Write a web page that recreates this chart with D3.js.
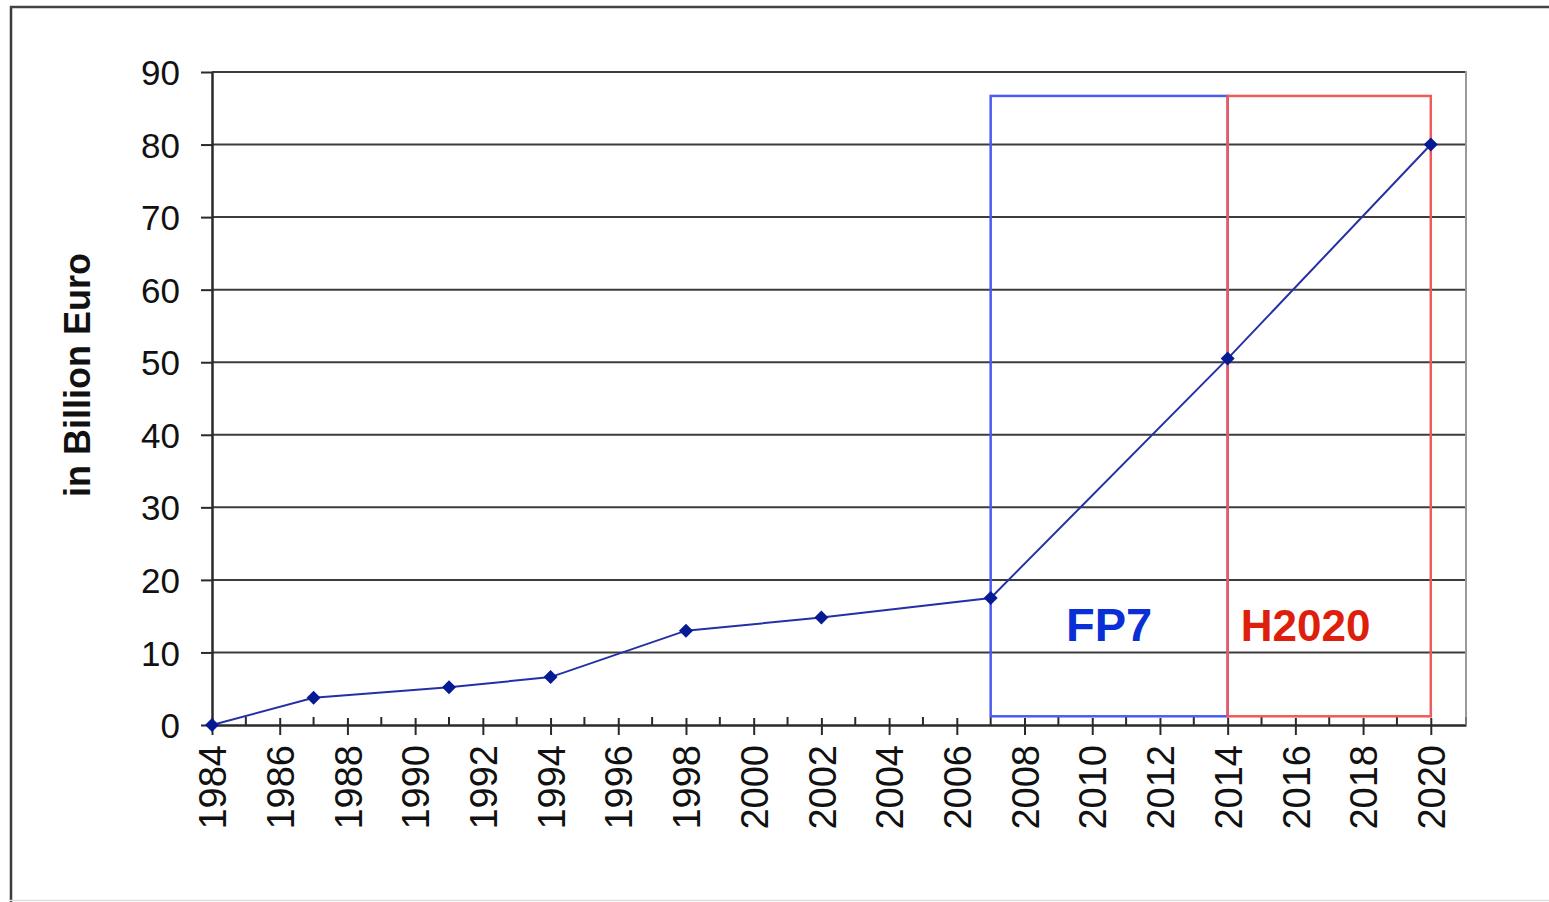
<!DOCTYPE html>
<html>
<head>
<meta charset="utf-8">
<script src="https://cdn.jsdelivr.net/npm/d3@7"></script>
<style>
  html, body { margin: 0; padding: 0; background: #fff; }
  svg { display: block; }
</style>
</head>
<body>
<script>
// sizes
const width = 1549;
const height = 902;
const margin = { top: 72, right: 83, bottom: 177, left: 212 };

// data
const years = [1984, 1987, 1991, 1994, 1998, 2002, 2007, 2014, 2020];
const budget = [0, 3.75, 5.2, 6.6, 13, 14.8, 17.5, 50.5, 80];

const programmes = ["FP7", "H2020"];
const progStart = [2007, 2014];
const progEnd = [2014, 2020];
const progTop = [86.7, 86.7];
const progBottom = [1.2, 1.2];
const progLabelX = [2010.5, 2016.3];
const progLabelY = [11.6, 11.6];
const progStroke = ["#4a5cf2", "#f05a5a"];
const progText = ["#0a2fd6", "#de1f0c"];

const yTicks = d3.range(0, 91, 10);
const xMajor = d3.range(1984, 2021, 2);
const xMinor = d3.range(1985, 2021, 2);

const svg = d3.select('body')
  .append('svg')
  .attr('width', width)
  .attr('height', height)
  .style('font-family', '"Liberation Sans", Arial, sans-serif');

// outer frame
svg.append('line').attr('x1', 11).attr('x2', 11).attr('y1', 6).attr('y2', 902)
   .attr('stroke', '#3a3a3a').attr('stroke-width', 2.5);
svg.append('line').attr('x1', 10).attr('x2', 1549).attr('y1', 7).attr('y2', 7)
   .attr('stroke', '#444').attr('stroke-width', 2.5);
svg.append('line').attr('x1', 10).attr('x2', 1549).attr('y1', 900.5).attr('y2', 900.5)
   .attr('stroke', '#ddd').attr('stroke-width', 1.5);

// scales
const x = d3.scaleLinear()
  .domain([1984, 2021.04])
  .range([margin.left, width - margin.right]);

const y = d3.scaleLinear()
  .domain([0, 90])
  .range([height - margin.bottom, margin.top]);

// gridlines
svg.append('g')
  .selectAll('line')
  .data(yTicks.filter(d => d > 0))
  .join('line')
  .attr('x1', x(1984))
  .attr('x2', x.range()[1])
  .attr('y1', d => y(d))
  .attr('y2', d => y(d))
  .attr('stroke', '#3c3c3c')
  .attr('stroke-width', 2);

// right border
svg.append('line')
  .attr('x1', x.range()[1]).attr('x2', x.range()[1])
  .attr('y1', y(90) - 1).attr('y2', y(0))
  .attr('stroke', '#9a9a9a').attr('stroke-width', 2);

// y axis
svg.append('g')
  .attr('transform', `translate(${x(1984)},0)`)
  .call(d3.axisLeft(y).tickValues(yTicks).tickSize(11).tickPadding(21).tickSizeOuter(0))
  .call(g => g.select('.domain').attr('stroke', '#2a2a2a').attr('stroke-width', 2.5))
  .call(g => g.selectAll('.tick line').attr('stroke', '#2a2a2a').attr('stroke-width', 2))
  .call(g => g.selectAll('.tick text')
    .attr('font-size', 35).attr('fill', '#111').attr('dy', '0.36em'));

// x axis
const xAxis = svg.append('g')
  .attr('transform', `translate(0,${y(0)})`)
  .call(d3.axisBottom(x).tickValues(xMajor).tickSize(10).tickFormat(d3.format('d')).tickSizeOuter(0))
  .call(g => g.select('.domain').attr('stroke', '#2a2a2a').attr('stroke-width', 2.5))
  .call(g => g.selectAll('.tick line').attr('y1', -7).attr('stroke', '#2a2a2a').attr('stroke-width', 2))
  .call(g => g.selectAll('.tick text')
    .attr('font-size', 38).attr('fill', '#111')
    .attr('text-anchor', 'end')
    .attr('transform', 'rotate(-90)')
    .attr('x', -20).attr('y', 0).attr('dy', '0.36em'));

xAxis.append('g')
  .selectAll('line')
  .data(xMinor.concat([2021.04]))
  .join('line')
  .attr('x1', d => x(d)).attr('x2', d => x(d))
  .attr('y1', -8).attr('y2', 0)
  .attr('stroke', d => d > 2020.5 ? '#777' : '#2a2a2a')
  .attr('stroke-width', 2);

// programme boxes
const progs = programmes.map((name, i) => ({
  name, start: progStart[i], end: progEnd[i], top: progTop[i], bottom: progBottom[i],
  labelX: progLabelX[i], labelY: progLabelY[i], stroke: progStroke[i], text: progText[i]
}));

svg.append('g')
  .selectAll('rect')
  .data(progs)
  .join('rect')
  .attr('x', d => x(d.start))
  .attr('y', d => y(d.top))
  .attr('width', d => x(d.end) - x(d.start))
  .attr('height', d => y(d.bottom) - y(d.top))
  .attr('fill', 'none')
  .attr('stroke', d => d.stroke)
  .attr('stroke-width', 2.5);

svg.append('g')
  .selectAll('text')
  .data(progs)
  .join('text')
  .attr('x', d => x(d.labelX))
  .attr('y', d => y(d.labelY))
  .attr('text-anchor', 'middle')
  .attr('font-size', d => d.name === 'FP7' ? 47 : 44)
  .attr('font-weight', 'bold')
  .attr('fill', d => d.text)
  .text(d => d.name);

// line + markers
const points = years.map((yr, i) => ({ year: yr, value: budget[i] }));

svg.append('path')
  .datum(points)
  .attr('fill', 'none')
  .attr('stroke', '#2430a4')
  .attr('stroke-width', 2)
  .attr('d', d3.line().x(d => x(d.year)).y(d => y(d.value)));

svg.append('g')
  .selectAll('path')
  .data(points)
  .join('path')
  .attr('transform', d => `translate(${x(d.year)},${y(d.value)})`)
  .attr('d', d3.symbol().type(d3.symbolDiamond2).size(125))
  .attr('fill', '#061a94');

// y title
svg.append('text')
  .attr('transform', `translate(90,375) rotate(-90)`)
  .attr('text-anchor', 'middle')
  .attr('font-size', 36)
  .attr('font-weight', 'bold')
  .attr('fill', '#111')
  .text('in Billion Euro');
</script>
</body>
</html>
